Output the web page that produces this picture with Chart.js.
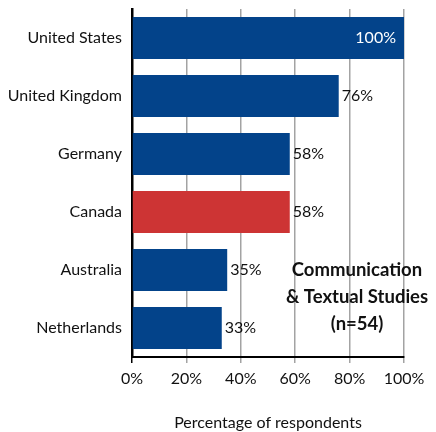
<!DOCTYPE html>
<html>
<head>
<meta charset="utf-8">
<script src="https://cdn.jsdelivr.net/npm/chart.js@4"></script>
<style>
  html, body { margin: 0; padding: 0; background: #fff; }
  #wrap { width: 436px; height: 432px; }
</style>
</head>
<body>
<div id="wrap"><canvas id="countryChart" width="436" height="432"></canvas></div>
<script>
// Data
const countries = ['United States', 'United Kingdom', 'Germany', 'Canada', 'Australia', 'Netherlands'];
const percentages = [100, 76, 58, 58, 35, 33];
const barColors = ['#03438a', '#03438a', '#03438a', '#cd3434', '#03438a', '#03438a'];
const xTicks = [0, 20, 40, 60, 80, 100];
const noteLines = ['Communication', '& Textual Studies', '(n=54)'];

const fontFamily = 'Lato, "Open Sans", sans-serif';

// Value labels at the end of each bar
const valueLabels = {
    id: 'valueLabels',
    afterDatasetsDraw(chart) {
        const ctx = chart.ctx;
        const meta = chart.getDatasetMeta(0);
        ctx.save();
        ctx.font = '16px ' + fontFamily;
        ctx.textBaseline = 'middle';
        meta.data.forEach((bar, i) => {
            const text = percentages[i] + '%';
            if (percentages[i] >= 90) {
                ctx.fillStyle = '#ffffff';
                ctx.textAlign = 'right';
                ctx.fillText(text, bar.x - 8, bar.y);
            } else {
                ctx.fillStyle = '#111111';
                ctx.textAlign = 'left';
                ctx.fillText(text, bar.x + 3, bar.y);
            }
        });
        ctx.restore();
    }
};

// Bold note in the lower right
const groupNote = {
    id: 'groupNote',
    afterDraw(chart) {
        const ctx = chart.ctx;
        ctx.save();
        ctx.font = 'bold 18.5px ' + fontFamily;
        ctx.fillStyle = '#111111';
        ctx.textAlign = 'center';
        ctx.textBaseline = 'middle';
        noteLines.forEach((line, i) => {
            ctx.fillText(line, 357, 270 + i * 27);
        });
        ctx.restore();
    }
};

const ctx = document.getElementById('countryChart').getContext('2d');
new Chart(ctx, {
    type: 'bar',
    data: {
        labels: countries,
        datasets: [{
            data: percentages,
            backgroundColor: barColors,
            borderWidth: 0,
            categoryPercentage: 1,
            barPercentage: 0.72
        }]
    },
    options: {
        indexAxis: 'y',
        responsive: false,
        animation: false,
        layout: { padding: { top: 9, right: 32, bottom: 0, left: 0 } },
        plugins: {
            legend: { display: false },
            tooltip: { enabled: false }
        },
        scales: {
            x: {
                min: 0,
                max: 100,
                afterBuildTicks(scale) {
                    scale.ticks = xTicks.map(v => ({ value: v }));
                },
                afterFit(scale) { scale.height = 75; },
                ticks: {
                    callback: v => v + '%',
                    color: '#111111',
                    font: { family: fontFamily, size: 16 },
                    padding: 6,
                    maxRotation: 0
                },
                grid: {
                    color: c => (c.tick && c.tick.value === 0) ? '#000000' : '#a3a3a3',
                    lineWidth: 1.5,
                    tickLength: 6
                },
                border: { display: true, color: '#000000', width: 2 },
                title: {
                    display: true,
                    text: 'Percentage of respondents',
                    color: '#111111',
                    font: { family: fontFamily, size: 16 },
                    padding: { top: 0, bottom: 0 }
                }
            },
            y: {
                afterFit(scale) {
                    scale.width = 132;
                    scale.paddingTop = 0;
                    scale.paddingBottom = 0;
                },
                ticks: {
                    color: '#111111',
                    font: { family: fontFamily, size: 16 },
                    padding: 10
                },
                grid: { display: false, drawTicks: false },
                border: { display: true, color: '#000000', width: 2.5 }
            }
        }
    },
    plugins: [valueLabels, groupNote]
});
</script>
</body>
</html>
